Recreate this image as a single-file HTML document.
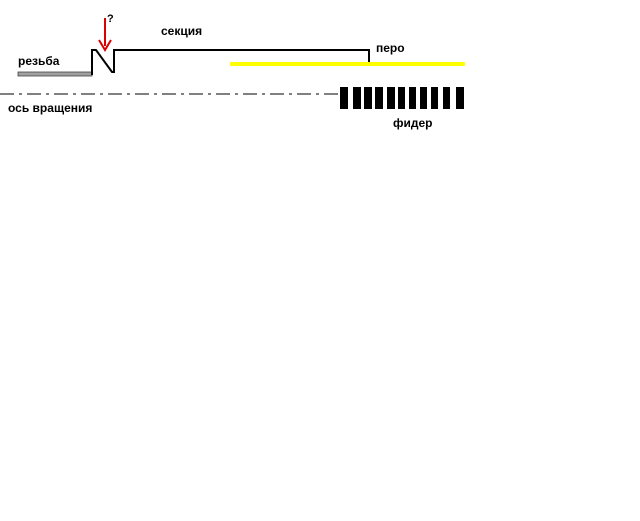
<!DOCTYPE html>
<html><head><meta charset="utf-8"><style>body{margin:0;background:#fff}svg{display:block}</style></head>
<body>
<svg width="640" height="521" xmlns="http://www.w3.org/2000/svg" font-family="Liberation Sans, sans-serif" font-weight="bold" font-size="12">
<rect width="640" height="521" fill="#fff"/>
<rect x="18" y="72" width="74" height="4" fill="#a0a0a0" stroke="#444" stroke-width="0.8"/>
<polyline points="92,75 92,50 96,50 112,72 114,72 114,50 369,50 369,62" fill="none" stroke="#000" stroke-width="2"/>
<line x1="230" y1="64" x2="465" y2="64" stroke="#ffff00" stroke-width="4"/>
<line x1="0" y1="94" x2="345" y2="94" stroke="#000" stroke-width="1" stroke-dasharray="14,5,3,5"/>
<g fill="#000">
<rect x="340" y="87" width="8" height="22"/><rect x="353" y="87" width="8" height="22"/><rect x="364" y="87" width="8" height="22"/><rect x="375" y="87" width="8" height="22"/><rect x="387" y="87" width="8" height="22"/><rect x="398" y="87" width="7" height="22"/><rect x="409" y="87" width="7" height="22"/><rect x="420" y="87" width="7" height="22"/><rect x="431" y="87" width="7" height="22"/><rect x="443" y="87" width="7" height="22"/><rect x="456" y="87" width="8" height="22"/>
</g>
<line x1="105" y1="18" x2="105" y2="46" stroke="#d00" stroke-width="2"/>
<polyline points="99,40 105,50 111,40" fill="none" stroke="#d00" stroke-width="2"/>
<text x="107" y="22" font-size="11">?</text>
<text x="161" y="35">секция</text>
<text x="18" y="65">резьба</text>
<text x="376" y="52">перо</text>
<text x="8" y="112">ось вращения</text>
<text x="393" y="127">фидер</text>
</svg>
</body></html>
